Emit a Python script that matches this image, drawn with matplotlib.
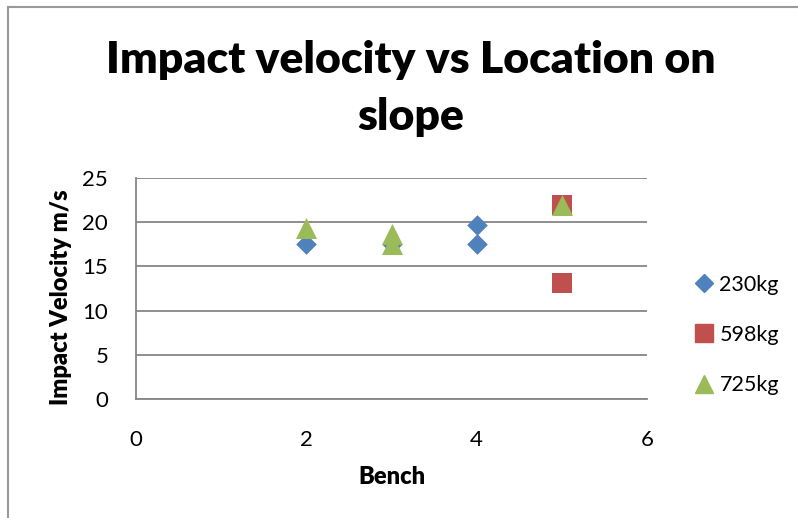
import matplotlib
matplotlib.use("Agg")
import matplotlib.pyplot as plt
from matplotlib.lines import Line2D

plt.rcParams['font.family'] = ['Lato', 'DejaVu Sans']

# Impact velocity (m/s) at each bench, per block mass
bench_230 = [2, 3, 4, 4]
vel_230 = [17.5, 17.5, 19.7, 17.5]
bench_598 = [5, 5]
vel_598 = [22.0, 13.1]
bench_725 = [2, 3, 3, 5]
vel_725 = [19.3, 18.7, 17.5, 22.0]

series_labels = ["230kg", "598kg", "725kg"]
x_ticks = [0, 2, 4, 6]
y_ticks = [0, 5, 10, 15, 20, 25]

blue = "#4F81BD"
red = "#C0504D"
green = "#9BBB59"

fig = plt.figure(figsize=(7.98, 5.18), dpi=100)
ax = fig.add_axes([136 / 798, 1 - 399 / 518, (647 - 136) / 798, (399 - 178) / 518])

ax.scatter(bench_230, vel_230, marker="D", s=110, color=blue, linewidths=0, zorder=3)
ax.scatter(bench_598, vel_598, marker="s", s=200, color=red, linewidths=0, zorder=3)
ax.scatter(bench_725, vel_725, marker="^", s=230, color=green, linewidths=0, zorder=4)

ax.set_xlim(0, 6)
ax.set_ylim(0, 25)
ax.set_xticks(x_ticks)
ax.set_yticks(y_ticks)
ax.tick_params(length=0, labelsize=16)
ax.tick_params(axis="y", pad=20)
ax.tick_params(axis="x", pad=22)
ax.grid(axis="y", color="#868686", linewidth=1.3)
ax.set_axisbelow(True)
for side in ["top", "right"]:
    ax.spines[side].set_visible(False)
for side in ["left", "bottom"]:
    ax.spines[side].set_color("#868686")
    ax.spines[side].set_linewidth(1.3)

ax.set_xlabel("Bench", fontsize=17, fontweight="heavy", labelpad=12)
ax.set_ylabel("Impact Velocity m/s", fontsize=17, fontweight="heavy")
ax.yaxis.set_label_coords(-0.125, 0.46)

fig.text(0.515, 1 - 73 / 518, "Impact velocity vs Location on", ha="center",
         va="baseline", fontsize=32, fontweight="heavy")
fig.text(0.515, 1 - 130 / 518, "slope", ha="center", va="baseline",
         fontsize=32, fontweight="heavy")

handles = [
    Line2D([], [], marker="D", linestyle="none", color=blue, markersize=9),
    Line2D([], [], marker="s", linestyle="none", color=red, markersize=13),
    Line2D([], [], marker="^", linestyle="none", color=green, markersize=13),
]
fig.legend(handles, series_labels, loc="center left", bbox_to_anchor=(685 / 798, 1 - 335 / 518),
           frameon=False, fontsize=15.5, handlelength=0.8, handletextpad=0.3,
           labelspacing=1.4, borderpad=0)

# chart frame
fig.add_artist(Line2D([8 / 798, 8 / 798], [0, 1 - 7 / 518], color="#9a9a9a", linewidth=1.5))
fig.add_artist(Line2D([8 / 798, 1], [1 - 7 / 518, 1 - 7 / 518], color="#9a9a9a", linewidth=1.5))

fig.savefig("out.png", dpi=100)
